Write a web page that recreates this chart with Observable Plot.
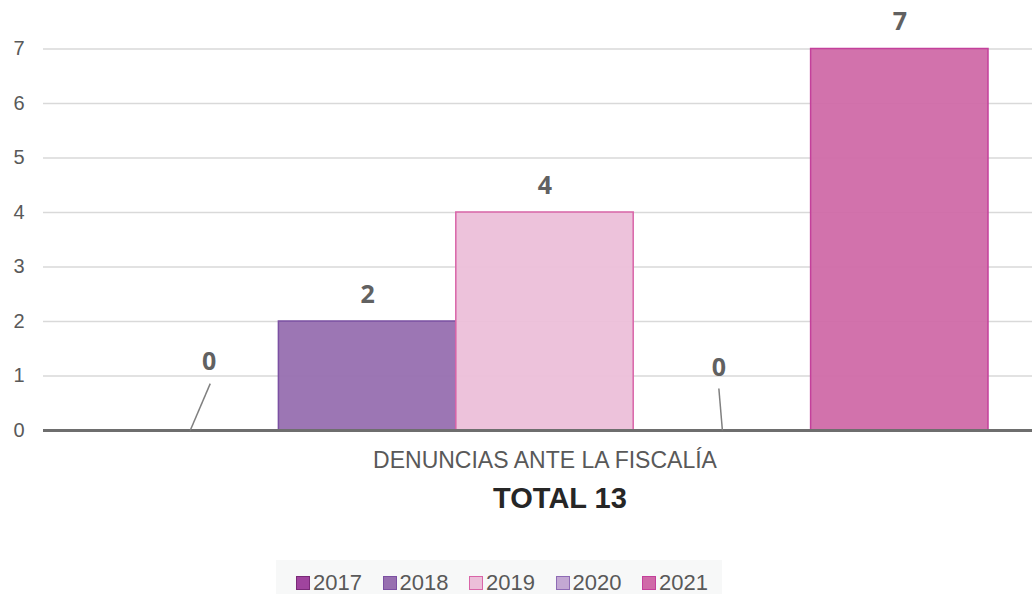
<!DOCTYPE html>
<html>
<head>
<meta charset="utf-8">
<script src="https://cdn.jsdelivr.net/npm/d3@7"></script>
<script src="https://cdn.jsdelivr.net/npm/@observablehq/plot@0.6"></script>
<style>
  html, body { margin: 0; padding: 0; background: #fff; }
  #wrap { position: relative; width: 1032px; height: 594px; overflow: hidden; font-family: "Liberation Sans", Arial, sans-serif; }
  #chart { position: absolute; left: 0; top: 0; }
  #total { position: absolute; left: 0; width: 1120px; top: 482px; text-align: center; font-weight: bold; font-size: 29px; color: #262626; line-height: 32px; }
  #legend { position: absolute; left: 276px; top: 560px; width: 446px; height: 40px; background: #f7f8f8; }
  .item { position: absolute; top: 11px; display: flex; align-items: center; font-size: 22px; color: #595959; line-height: 24px; }
  .sw { width: 12px; height: 12px; border: 1.5px solid; margin-right: 3px; box-sizing: content-box; }
</style>
</head>
<body>
<div id="wrap">
  <div id="chart"></div>
  <div id="total"></div>
  <div id="legend"></div>
</div>
<script>
const years = [2017, 2018, 2019, 2020, 2021];
const values = [0, 2, 4, 0, 7];
const category = "DENUNCIAS ANTE LA FISCALÍA";
const yTicks = [0, 1, 2, 3, 4, 5, 6, 7];
const fillColors = ["#a0449e", "#976fb0", "#ecbfd9", "#c3a8d3", "#d06aa8"];
const strokeColors = ["#7a2a78", "#7b50a2", "#d965a8", "#8e6bb5", "#c4409b"];

const data = years.map((year, i) => ({year, value: values[i], fill: fillColors[i], stroke: strokeColors[i]}));

// manual placement of labels for zero-height bars (offset in years, height in y units)
const zeroPlacement = {
  2017: {lx: 0.107, ly: 1.25, tx: 0.113, ty: 0.86},
  2020: {lx: -0.02, ly: 1.14, tx: -0.02, ty: 0.77}
};
const zeros = data.filter(d => d.value === 0).map(d => ({...d, ...zeroPlacement[d.year]}));
const nonZero = data.filter(d => d.value > 0);
const midYear = (d3.min(years) + d3.max(years)) / 2;

const chart = Plot.plot({
  width: 1032,
  height: 480,
  marginLeft: 43,
  marginRight: 0,
  marginTop: 0,
  marginBottom: 0,
  style: {fontFamily: "Liberation Sans, Arial, sans-serif", background: "transparent"},
  x: {domain: [d3.min(years) - 0.5, d3.max(years) + 0.5], range: [101, 988], axis: null},
  y: {domain: [0, 7], range: [430, 48.5], axis: null},
  marks: [
    Plot.ruleY(yTicks.filter(t => t > 0), {stroke: "#d9d9d9", strokeWidth: 1.5}),
    Plot.rectY(nonZero, {x1: d => d.year - 0.5, x2: d => d.year + 0.5, y: "value", fill: d => d.fill, stroke: d => d.stroke, strokeWidth: 1.5, fillOpacity: 0.95}),
    Plot.ruleY([0], {stroke: "#6e6e6e", strokeWidth: 3}),
    Plot.axisY({ticks: yTicks, tickFormat: d3.format("d"), tickSize: 0, tickPadding: 19, fontSize: 20, color: "#595959", textAnchor: "end"}),
    Plot.text(nonZero, {x: "year", y: "value", text: d => String(d.value), dy: -27, fontSize: 25, fontWeight: "bold", fill: "#616161", fontFamily: "Open Sans, sans-serif"}),
    Plot.link(zeros, {x1: d => d.year + d.tx, y1: "ty", x2: "year", y2: 0, stroke: "#808080", strokeWidth: 1.5}),
    Plot.text(zeros, {x: d => d.year + d.lx, y: "ly", text: d => String(d.value), fontSize: 25, fontWeight: "bold", fill: "#616161", fontFamily: "Open Sans, sans-serif"}),
    Plot.text([category], {x: midYear, y: 0, text: d => d, dy: 30, fontSize: 23, fill: "#595959"})
  ]
});
document.getElementById("chart").appendChild(chart);

document.getElementById("total").textContent = "TOTAL " + d3.sum(values);

const legend = document.getElementById("legend");
data.forEach((d, i) => {
  const it = document.createElement("div");
  it.className = "item";
  it.style.left = (20 + i * 86.5) + "px";
  const sw = document.createElement("span");
  sw.className = "sw";
  sw.style.background = d.fill;
  sw.style.borderColor = d.stroke;
  it.appendChild(sw);
  const t = document.createElement("span");
  t.textContent = d.year;
  it.appendChild(t);
  legend.appendChild(it);
});
</script>
</body>
</html>
